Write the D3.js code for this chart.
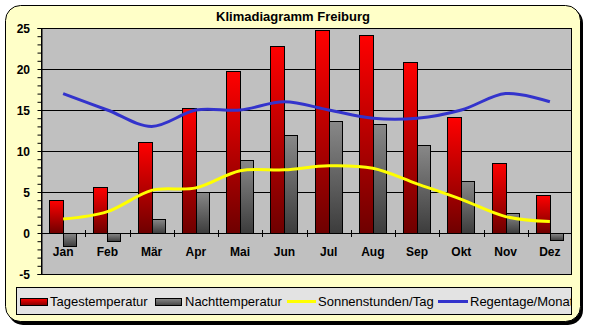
<!DOCTYPE html>
<html><head><meta charset="utf-8">
<script src="https://cdn.jsdelivr.net/npm/d3@7"></script>
<style>html,body{margin:0;padding:0;background:#fff;}svg{display:block;}</style>
</head><body>
<script>
const months = ["Jan","Feb","Mär","Apr","Mai","Jun","Jul","Aug","Sep","Okt","Nov","Dez"];
const tagesTemp = [4.0,5.6,11.1,15.2,19.7,22.8,24.7,24.2,20.8,14.2,8.5,4.6];
const nachtTemp = [-1.6,-1.0,1.7,5.0,8.9,11.9,13.7,13.3,10.7,6.3,2.4,-0.9];
const sonnenStunden = [1.7,2.6,5.2,5.5,7.6,7.7,8.2,7.9,6.0,4.1,2.0,1.4];
const regenTage = [17,15,13,15,15,16,15,14,14,15,17,16];
const yTicks = [-5,0,5,10,15,20,25];
const seriesNames = ["Tagestemperatur","Nachttemperatur","Sonnenstunden/Tag","Regentage/Monat"];
const chartTitle = "Klimadiagramm Freiburg";

const W = 589, H = 330;
const svg = d3.select("body").append("svg").attr("width", W).attr("height", H);
const defs = svg.append("defs");
function grad(id, c1, c2){
  const lg = defs.append("linearGradient").attr("id",id).attr("x1",0).attr("y1",0).attr("x2",0).attr("y2",1);
  lg.append("stop").attr("offset","0%").attr("stop-color",c1);
  lg.append("stop").attr("offset","100%").attr("stop-color",c2);
}
grad("gRed","#ff0000","#6e0000");
grad("gGrey","#888888","#3c3c3c");
grad("gRedL","#ff0000","#800000");
grad("gGreyL","#888888","#444444");
defs.append("clipPath").attr("id","legClip").append("rect").attr("x",17).attr("y",288).attr("width",554).attr("height",26);

// frame with shadow
svg.append("rect").attr("x",8).attr("y",8).attr("width",575).attr("height",317).attr("rx",15).attr("fill","#000");
svg.append("rect").attr("x",5.5).attr("y",5.5).attr("width",575).attr("height",316).attr("rx",15)
  .attr("fill","#ffffc8").attr("stroke","#000").attr("stroke-width",1);

// title
svg.append("text").attr("x",293).attr("y",21).attr("text-anchor","middle")
  .attr("font-family","Liberation Sans, Arial, sans-serif").attr("font-weight","bold").attr("font-size",13)
  .text(chartTitle);

const pL = 41, pR = 572, pT = 28, pB = 274;
const x = d3.scaleBand().domain(months).range([pL, pR]);
const y = d3.scaleLinear().domain([-5,25]).range([pB, pT]);

// plot area
svg.append("rect").attr("x",pL).attr("y",pT).attr("width",pR-pL).attr("height",pB-pT).attr("fill","#c0c0c0");

// gridlines
svg.append("g").selectAll("line").data(yTicks).join("line")
  .attr("x1",pL).attr("x2",pR).attr("y1",d=>Math.round(y(d))+0.5).attr("y2",d=>Math.round(y(d))+0.5)
  .attr("stroke","#000").attr("stroke-width",1);

const bw = 14;
const g = svg.append("g");
g.selectAll("rect.t").data(tagesTemp).join("rect")
  .attr("x",(d,i)=>Math.round(x(months[i])+x.bandwidth()/2-bw)+0.5)
  .attr("y",d=>Math.round(y(Math.max(0,d)))+0.5)
  .attr("width",bw)
  .attr("height",d=>Math.abs(Math.round(y(d))-Math.round(y(0))))
  .attr("fill","url(#gRed)").attr("stroke","#000").attr("stroke-width",1);
g.selectAll("rect.n").data(nachtTemp).join("rect")
  .attr("x",(d,i)=>Math.round(x(months[i])+x.bandwidth()/2)+0.5)
  .attr("y",d=>Math.round(y(Math.max(0,d)))+0.5)
  .attr("width",bw-1)
  .attr("height",d=>Math.abs(Math.round(y(d))-Math.round(y(0))))
  .attr("fill","url(#gGrey)").attr("stroke","#000").attr("stroke-width",1);

// axes
const yAxisG = svg.append("g").attr("transform",`translate(${pL+0.5},0)`);
yAxisG.call(d3.axisLeft(y).ticks(30).tickSize(4).tickFormat(()=>""));
yAxisG.select(".domain").attr("stroke","#000");
yAxisG.selectAll(".tick line").attr("stroke","#000");
yAxisG.selectAll(".tick text").remove();
svg.append("g").selectAll("text").data(yTicks).join("text")
  .attr("x",30).attr("y",d=>y(d)+4.5).attr("text-anchor","end")
  .attr("font-family","Liberation Sans, Arial, sans-serif").attr("font-weight","bold").attr("font-size",12)
  .text(d=>d);

// x axis ticks at category boundaries crossing zero line
const bounds = months.map(m=>x(m)).slice(1);
svg.append("g").selectAll("line").data(bounds).join("line")
  .attr("x1",d=>Math.round(d)+0.5).attr("x2",d=>Math.round(d)+0.5)
  .attr("y1",y(0)-3).attr("y2",y(0)+4).attr("stroke","#000");
svg.append("g").selectAll("text").data(months).join("text")
  .attr("x",d=>x(d)+x.bandwidth()/2).attr("y",256).attr("text-anchor","middle")
  .attr("font-family","Liberation Sans, Arial, sans-serif").attr("font-weight","bold").attr("font-size",12)
  .text(d=>d);

// plot border
svg.append("rect").attr("x",pL+0.5).attr("y",pT+0.5).attr("width",pR-pL-1).attr("height",pB-pT).attr("fill","none").attr("stroke","#000");

// lines
const line = d3.line().x((d,i)=>x(months[i])+x.bandwidth()/2).y(d=>y(d)).curve(d3.curveCatmullRom.alpha(0));
svg.append("path").datum(sonnenStunden).attr("d",line).attr("fill","none").attr("stroke","#ffff00").attr("stroke-width",3);
svg.append("path").datum(regenTage).attr("d",line).attr("fill","none").attr("stroke","#3333cc").attr("stroke-width",3);

// legend
svg.append("rect").attr("x",16.5).attr("y",287.5).attr("width",555).attr("height",27).attr("fill","#e3e3e3").attr("stroke","#000");
const lg = svg.append("g").attr("clip-path","url(#legClip)").attr("font-family","Liberation Sans, Arial, sans-serif").attr("font-size",13);
lg.append("rect").attr("x",20.5).attr("y",298.5).attr("width",27).attr("height",7).attr("fill","url(#gRedL)").attr("stroke","#000");
lg.append("text").attr("x",50).attr("y",306).text(seriesNames[0]);
lg.append("rect").attr("x",155.5).attr("y",298.5).attr("width",26).attr("height",7).attr("fill","url(#gGreyL)").attr("stroke","#000");
lg.append("text").attr("x",185).attr("y",306).text(seriesNames[1]);
lg.append("line").attr("x1",287).attr("x2",316).attr("y1",301.5).attr("y2",301.5).attr("stroke","#ffff00").attr("stroke-width",3);
lg.append("text").attr("x",318).attr("y",306).text(seriesNames[2]);
lg.append("line").attr("x1",438).attr("x2",468).attr("y1",301.5).attr("y2",301.5).attr("stroke","#3333cc").attr("stroke-width",3);
lg.append("text").attr("x",470).attr("y",306).text(seriesNames[3]);
</script>
</body></html>
